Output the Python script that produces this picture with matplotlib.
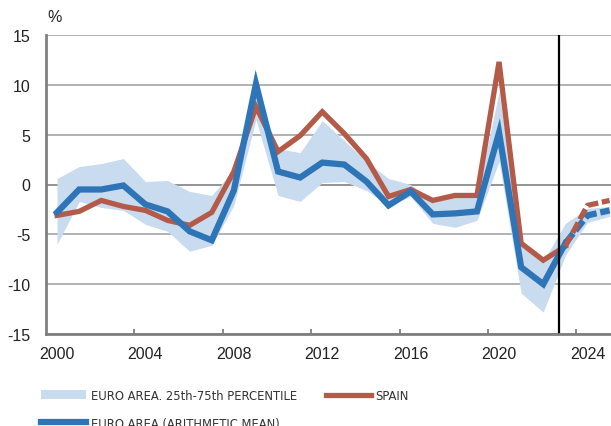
import matplotlib
matplotlib.use("Agg")
import matplotlib.pyplot as plt
from matplotlib.patches import Patch
from matplotlib.lines import Line2D
from matplotlib import font_manager as fm
import numpy as np

years = list(range(2000, 2026))
euro_mean = [-2.8, -0.5, -0.5, -0.1, -2.0, -2.7, -4.7, -5.6, -0.6, 10.1, 1.3, 0.7, 2.2, 2.0, 0.3, -2.1,
             -0.7, -3.0, -2.9, -2.7, 5.2, -8.3, -10.0, -5.9, -3.1, -2.6]
spain = [-3.1, -2.7, -1.6, -2.2, -2.6, -3.6, -4.1, -2.8, 1.3, 7.8, 3.3, 4.9, 7.3, 5.1, 2.6, -1.2,
         -0.5, -1.6, -1.1, -1.1, 12.3, -5.9, -7.6, -6.2, -2.1, -1.6]
p75 = [0.6, 1.8, 2.1, 2.6, 0.3, 0.4, -0.7, -1.1, 1.5, 9.5, 3.6, 3.2, 6.4, 4.4, 2.3, 0.6,
       0.0, -1.7, -0.9, -1.1, 9.3, -5.7, -7.7, -3.9, -2.4, -2.2]
p25 = [-6.0, -1.7, -2.3, -2.6, -4.0, -4.7, -6.7, -6.1, -2.1, 6.5, -1.1, -1.7, 0.2, 0.3, -0.6, -2.1,
       -1.2, -3.9, -4.3, -3.6, 2.3, -10.9, -12.8, -7.1, -3.8, -3.2]
xtick_labels = ["2000", "2004", "2008", "2012", "2016", "2020", "2024"]
yticks = [-15, -10, -5, 0, 5, 10, 15]
forecast_start = 2023
vline_x = 2022.72

BLUE = "#2e75b8"
RED = "#b35a48"
BAND = "#c9dbee"

W, H = 611, 427
fig = plt.figure(figsize=(W / 100, H / 100), dpi=100)
left_px, right_px, top_px, bot_px = 46, 46 + 26 * 22.1, 36, 335
ax = fig.add_axes([left_px / W, 1 - bot_px / H, (right_px - left_px) / W, (bot_px - top_px) / H])

x = np.array(years)
ax.fill_between(x, p25, p75, color=BAND, lw=0, zorder=1)

k = years.index(forecast_start)
ax.plot(x[:k + 1], spain[:k + 1], color=RED, lw=3.8, solid_joinstyle="miter", zorder=3)
ax.plot(x[:k + 1], euro_mean[:k + 1], color=BLUE, lw=4.5, solid_joinstyle="miter", zorder=4)
ax.plot(x[k:], euro_mean[k:], color=BLUE, lw=4.5, dashes=(2.0, 0.6), zorder=4)
ax.plot(x[k:], spain[k:], color=RED, lw=3.8, dashes=(2.2, 0.7), zorder=5)

ax.axvline(vline_x, color="black", lw=1.6, zorder=6)

ax.set_xlim(1999.5, 2025.5)
ax.set_ylim(-15, 15)
ax.set_yticks(yticks)
ax.set_yticklabels([str(v) for v in yticks], fontsize=11.5, family="Liberation Sans", color="#222222")
ax.tick_params(axis="y", length=0, pad=11)
for v in yticks:
    ax.axhline(v, color="#8a8a8a" if v == 0 else "#ababab", lw=1.3, zorder=0.5)

ax.set_xticks(np.arange(2003.5, 2026, 4))
ax.set_xticklabels([])
ax.tick_params(axis="x", which="major", direction="in", length=3.5, width=1.3, color="#808080")
ax.set_xticks([int(s) for s in xtick_labels], minor=True)
ax.set_xticklabels(xtick_labels, minor=True, fontsize=11.5, family="Liberation Sans", color="#222222")
ax.tick_params(axis="x", which="minor", length=0, pad=9)

for s in ["top", "right"]:
    ax.spines[s].set_visible(False)
for s in ["left", "bottom"]:
    ax.spines[s].set_color("#808080")
    ax.spines[s].set_linewidth(2)
ax.spines["bottom"].set_zorder(7)

fig.text(47 / W, 1 - 17 / H, "%", fontsize=11.5, family="Liberation Sans", color="#222222",
         ha="left", va="center")

lprop = fm.FontProperties(family="DejaVu Sans", stretch="condensed", size=9.3)
h_band = Patch(facecolor=BAND, edgecolor="none")
h_mean = Line2D([], [], color=BLUE, lw=4.5)
h_spain = Line2D([], [], color=RED, lw=3.8)
leg1 = fig.legend([h_band, h_mean], ["EURO AREA. 25th-75th PERCENTILE", "EURO AREA (ARITHMETIC MEAN)"],
                  loc="upper left", bbox_to_anchor=(41 / W, 1 - 390 / H), frameon=False,
                  prop=lprop, handlelength=3.45, handleheight=0.65,
                  handletextpad=0.4, labelspacing=1.15, borderpad=0, borderaxespad=0)
for t in leg1.get_texts():
    t.set_color("#333333")
leg2 = fig.legend([h_spain], ["SPAIN"], loc="upper left", bbox_to_anchor=(326 / W, 1 - 390 / H),
                  frameon=False, prop=lprop, handlelength=3.45, handleheight=0.65,
                  handletextpad=0.4, borderpad=0, borderaxespad=0)
for t in leg2.get_texts():
    t.set_color("#333333")

fig.savefig("out.png", dpi=100)
